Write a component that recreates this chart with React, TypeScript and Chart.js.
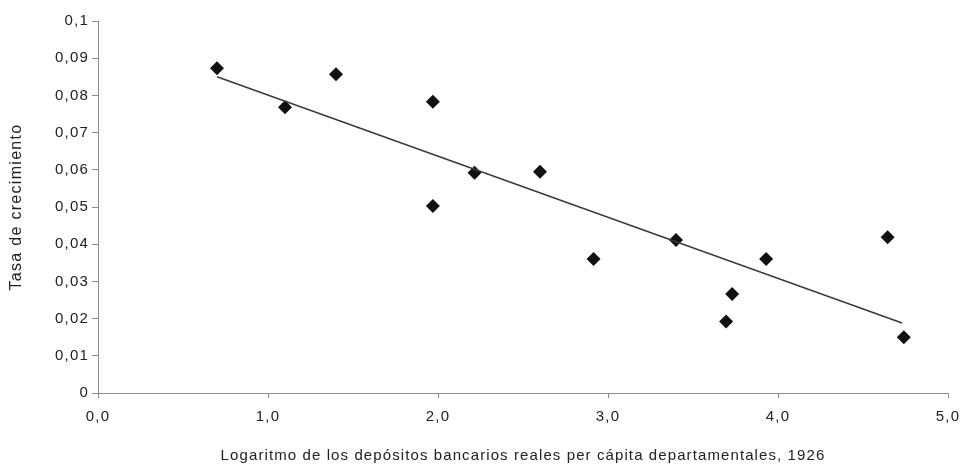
import React, { useEffect, useRef } from "react";
import { Chart, registerables } from "chart.js";

Chart.register(...registerables);

const xValues = [0.70, 1.10, 1.40, 1.97, 1.97, 2.215, 2.60, 2.915, 3.40, 3.695, 3.73, 3.93, 4.645, 4.74];
const yValues = [0.0873, 0.0768, 0.0857, 0.0783, 0.0503, 0.0592, 0.0595, 0.0360, 0.0411, 0.0192, 0.0266, 0.0360, 0.0419, 0.0150];
const trendX = [0.70, 4.73];
const trendY = [0.0850, 0.0188];
const xTickLabels = ["0,0", "1,0", "2,0", "3,0", "4,0", "5,0"];
const yTickLabels = ["0", "0,01", "0,02", "0,03", "0,04", "0,05", "0,06", "0,07", "0,08", "0,09", "0,1"];
const xTitle = "Logaritmo de los depósitos bancarios reales per cápita departamentales, 1926";
const yTitle = "Tasa de crecimiento";

function wrapSpacing(s: any, tickSpacing: string, titleSpacing: string) {
  if (s.__wrapped) return;
  s.__wrapped = true;
  const origTitle = s.drawTitle;
  const origLabels = s.drawLabels;
  s.drawTitle = function (...args: any[]) {
    const ctx = this.ctx;
    const prev = ctx.letterSpacing;
    ctx.letterSpacing = titleSpacing;
    origTitle.apply(this, args);
    ctx.letterSpacing = prev || "0px";
  };
  s.drawLabels = function (...args: any[]) {
    const ctx = this.ctx;
    const prev = ctx.letterSpacing;
    ctx.letterSpacing = tickSpacing;
    origLabels.apply(this, args);
    ctx.letterSpacing = prev || "0px";
  };
}

export default function App() {
  const ref = useRef<HTMLCanvasElement | null>(null);
  useEffect(() => {
    document.body.style.margin = "0";
    const canvas = ref.current;
    if (!canvas) return;
    const family = "'Liberation Sans', Arial, sans-serif";
    const tickFont = { family, size: 15 };
    const chart = new Chart(canvas, {
      type: "scatter",
      data: {
        datasets: [
          {
            type: "line",
            data: trendX.map((x, i) => ({ x, y: trendY[i] })),
            borderColor: "#3a3a3a",
            borderWidth: 1.5,
            pointRadius: 0,
            fill: false,
          },
          {
            type: "scatter",
            data: xValues.map((x, i) => ({ x, y: yValues[i] })),
            pointStyle: "rectRot",
            pointRadius: 7,
            backgroundColor: "#111",
            borderColor: "#111",
            borderWidth: 0,
          },
        ],
      },
      options: {
        responsive: false,
        animation: false,
        maintainAspectRatio: false,
        layout: { padding: { left: 0, right: 15, top: 21, bottom: 0 } },
        plugins: { legend: { display: false }, tooltip: { enabled: false } },
        scales: {
          x: {
            type: "linear",
            min: 0,
            max: 5,
            ticks: {
              stepSize: 1,
              padding: 10,
              color: "#222",
              font: tickFont,
              callback: (_v: any, i: number) => xTickLabels[i],
            },
            grid: { drawOnChartArea: false, tickLength: 5, color: "#8a8a9a" },
            border: { color: "#8a8a9a", width: 1 },
            title: {
              display: true,
              text: xTitle,
              color: "#222",
              font: { family, size: 15 },
              padding: { top: 0, bottom: 0 },
            },
            afterFit: (s: any) => { s.height = 465 - 393; s.paddingLeft = 0; s.paddingRight = 0; },
            afterUpdate: (s: any) => wrapSpacing(s, "1.2px", "1.1px"),
          },
          y: {
            type: "linear",
            min: 0,
            max: 0.1,
            ticks: {
              stepSize: 0.01,
              padding: 3,
              color: "#222",
              font: tickFont,
              callback: (_v: any, i: number) => yTickLabels[i],
            },
            grid: { drawOnChartArea: false, tickLength: 6, color: "#8a8a9a" },
            border: { color: "#8a8a9a", width: 1 },
            title: {
              display: true,
              text: yTitle,
              color: "#222",
              font: { family, size: 16 },
              padding: { top: 7, bottom: 0 },
            },
            afterFit: (s: any) => { s.width = 98; },
            afterUpdate: (s: any) => wrapSpacing(s, "1.2px", "1.3px"),
          },
        },
      },
    } as any);
    return () => chart.destroy();
  }, []);
  return (
    <div style={{ width: 963, height: 465, background: "#fff" }}>
      <canvas ref={ref} width={963} height={465} style={{ width: 963, height: 465, display: "block" }} />
    </div>
  );
}
